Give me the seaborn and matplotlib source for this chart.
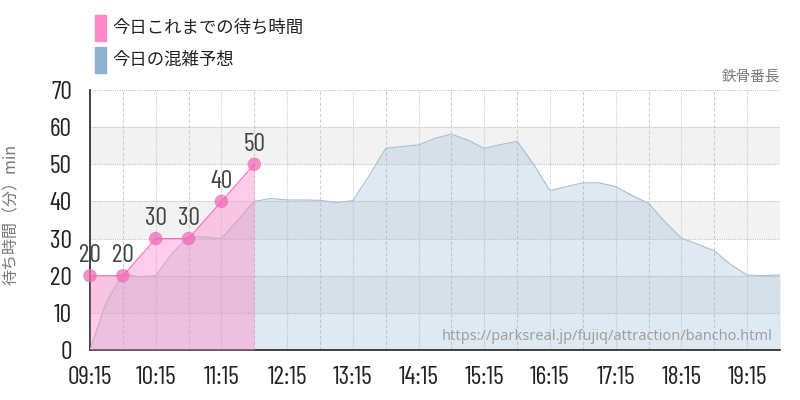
import pandas as pd
import matplotlib.pyplot as plt
import seaborn as sns
from matplotlib.patches import Rectangle

# 今日これまでの待ち時間 (30分ごと)
actual_times = ["09:15", "09:45", "10:15", "10:45", "11:15", "11:45"]
actual_wait = [20, 20, 30, 30, 40, 50]

# 今日の混雑予想 (15分ごと 09:15-19:45)
forecast_start = "09:15"
forecast_end = "19:45"
forecast_wait = [0, 13, 20.5, 19.7, 20, 26, 30.5, 30.4, 30, 35, 40, 40.8,
                 40.4, 40.4, 40.3, 39.7, 40.2, 47, 54.3, 54.8, 55.2, 57, 58.1,
                 56.5, 54.3, 55.3, 56.2, 50, 42.9, 44, 45, 45, 44, 41.6, 39.5,
                 34.5, 30.1, 28.5, 26.7, 23, 20.2, 20, 20.2]

tick_labels = ["09:15", "10:15", "11:15", "12:15", "13:15", "14:15",
               "15:15", "16:15", "17:15", "18:15", "19:15"]
y_ticks = [0, 10, 20, 30, 40, 50, 60, 70]

legend_labels = ["今日これまでの待ち時間", "今日の混雑予想"]
pink = "#ff88c8"
blue = "#8fb2d0"


def to_min(s):
    h, m = s.split(":")
    return int(h) * 60 + int(m)


actual = pd.DataFrame({"t": [to_min(s) for s in actual_times], "wait": actual_wait})
fc_times = pd.date_range("2024-01-01 " + forecast_start, "2024-01-01 " + forecast_end, freq="15min")
forecast = pd.DataFrame({"t": fc_times.hour * 60 + fc_times.minute, "wait": forecast_wait})

sns.set_style("white")
plt.rcParams["font.family"] = ["Noto Sans CJK JP", "DejaVu Sans"]
num_font = ["Barlow Condensed", "Roboto Condensed", "DejaVu Sans"]
num_size = 18.5

fig = plt.figure(figsize=(8, 4), dpi=100)
ax = fig.add_axes([90 / 800, 50 / 400, 690 / 800, 260 / 400])

x0, x1 = to_min(forecast_start), to_min(forecast_end)
ax.set_xlim(x0, x1)
ax.set_ylim(0, 70)

# 背景の帯
for lo in (10, 30, 50):
    ax.axhspan(lo, lo + 10, color="#f2f2f2", zorder=0, lw=0)

# グリッド
for y in y_ticks[1:]:
    ax.axhline(y, color="#c4c4c4", lw=0.8, ls=(0, (1, 1)), zorder=1)
for t in range(x0 + 30, x1 + 1, 30):
    style = (0, (1, 1)) if (t - x0) % 60 == 0 else (0, (3, 2))
    ax.axvline(t, color="#cfcfcf", lw=0.8, ls=style, zorder=1)

# 予想
ax.fill_between(forecast["t"], forecast["wait"], color=blue, alpha=0.28, lw=0, zorder=2)
sns.lineplot(data=forecast, x="t", y="wait", ax=ax, color="#a6bfd6", lw=0.8, zorder=3)

# 実績
ax.fill_between(actual["t"], actual["wait"], color=pink, alpha=0.42, lw=0, zorder=4)
sns.lineplot(data=actual, x="t", y="wait", ax=ax, color="#ff66b8", lw=0.8, zorder=5)
sns.scatterplot(data=actual, x="t", y="wait", ax=ax, color="#f06ab8", alpha=0.75,
                s=95, edgecolor="none", zorder=6, clip_on=False)
for t, w in zip(actual["t"], actual["wait"]):
    ax.annotate(str(w), (t, w), xytext=(0, 14.5), textcoords="offset points",
                ha="center", va="center", fontsize=num_size, color="#444444",
                family=num_font, zorder=7)

# 軸
ax.set_xticks([to_min(s) for s in tick_labels])
ax.set_xticklabels(tick_labels)
ax.set_yticks(y_ticks)
ax.tick_params(axis="both", length=11, width=0.8, color="#bbbbbb", labelsize=num_size,
               labelcolor="#222222", pad=0.5)
ax.tick_params(axis="y", pad=2)
for lab in ax.get_xticklabels() + ax.get_yticklabels():
    lab.set_family(num_font)
ax.set_xlabel("")
ax.set_ylabel("待ち時間（分）min", fontsize=11.5, color="#777777")
ax.yaxis.set_label_coords(-70 / 690, 0.52)
for side in ("top", "right"):
    ax.spines[side].set_visible(False)
for side in ("left", "bottom"):
    ax.spines[side].set_color("#222222")
    ax.spines[side].set_linewidth(1.2)

# ウォーターマーク
ax.text(0.99, 0.05, "https://parksreal.jp/fujiq/attraction/bancho.html",
        transform=ax.transAxes, ha="right", va="center", fontsize=10.5,
        color="#a0a0a0", family=["Noto Sans", "DejaVu Sans"], zorder=8)

# 凡例
for i, (lab, col) in enumerate(zip(legend_labels, [pink, blue])):
    y_top = 15 + i * 32
    fig.patches.append(Rectangle((95 / 800, 1 - (y_top + 26) / 400), 11 / 800, 26 / 400,
                                 transform=fig.transFigure, color=col))
    fig.text(112 / 800, 1 - (y_top + 13) / 400, lab, fontsize=12.5, color="#222222",
             va="center", ha="left")

fig.text(780 / 800, 1 - 77 / 400, "鉄骨番長", fontsize=10.5, color="#777777",
         ha="right", va="center")

fig.savefig("out.png", dpi=100)
